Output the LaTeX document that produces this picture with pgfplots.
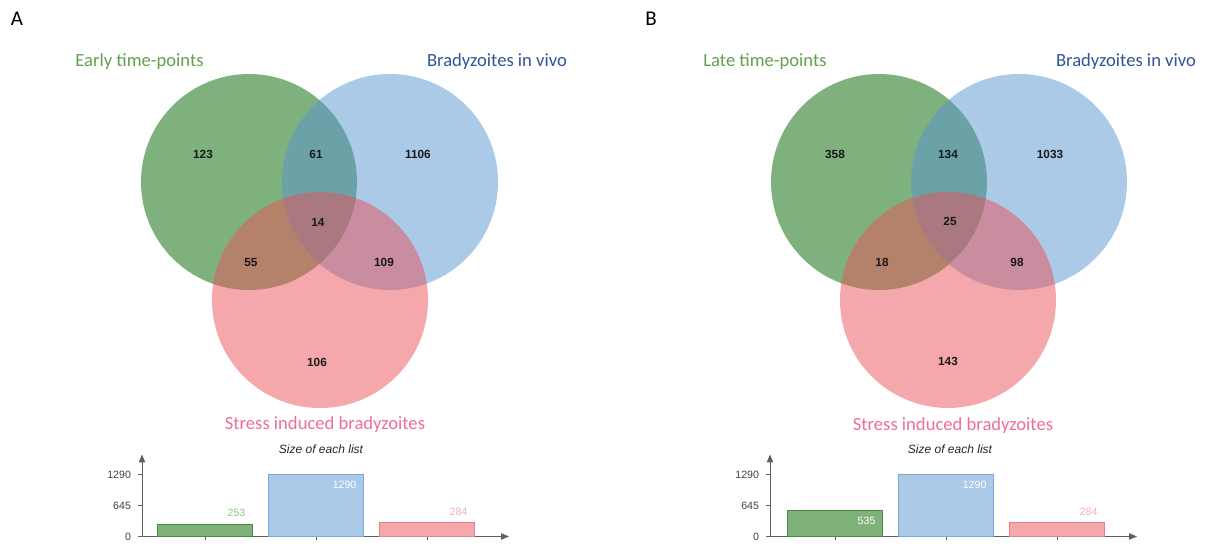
\documentclass[border=0pt]{standalone}
\usepackage{fontspec}
\setmainfont{Carlito}
\newfontfamily\arial{Liberation Sans}
\usepackage{pgfplots}
\pgfplotsset{compat=1.18}
\usepackage{pgfplotstable}
\usetikzlibrary{arrows.meta}

% venn fills (drawn at 50% over white)
\definecolor{vgreen}{RGB}{0,100,0}
\definecolor{vblue}{RGB}{87,149,209}
\definecolor{vpink}{RGB}{233,81,89}
% set titles
\definecolor{lgreen}{RGB}{98,160,78}
\definecolor{lblue}{RGB}{47,85,151}
\definecolor{lpink}{RGB}{238,110,150}
% bars
\definecolor{bgreen}{RGB}{127,178,121}
\definecolor{dgreen}{RGB}{72,140,68}
\definecolor{tgreen}{RGB}{140,198,128}
\definecolor{bblue}{RGB}{171,202,232}
\definecolor{dblue}{RGB}{128,168,214}
\definecolor{bpink}{RGB}{244,168,172}
\definecolor{dpink}{RGB}{232,128,136}
\definecolor{tpink}{RGB}{245,172,178}
\definecolor{axgray}{RGB}{95,95,95}

% region counts, positions in pixels of the reference
\pgfplotstableread{
x y lab
203 154 123
316 154 61
418 154 1106
318 222 14
251 262 55
384 262 109
317 362 106
}\vennA
\pgfplotstableread{
x y lab
835 154 358
948 154 134
1050 154 1033
950 221 25
882 262 18
1017 262 98
948 361 143
}\vennB

\newcommand{\vnum}{\arial\bfseries\fontsize{5.9}{7}\selectfont}
\newcommand{\vlab}{\fontsize{9.3}{11}\selectfont}

\pgfplotsset{
  vcirc/.style={only marks, mark=*, mark size=54pt,
    mark options={draw opacity=0, fill=#1, fill opacity=0.5}},
  barax/.style={
    scale only axis, anchor=south west,
    width=183.5pt, height=41pt,
    ymin=0, ymax=1706,
    axis lines=left,
    axis line style={draw=axgray, line width=0.5pt, -{Triangle[length=4pt,width=3.2pt]}},
    ybar,
    xtick={1,2,3}, xticklabels={},
    ytick={0,645,1290},
    tick align=outside, major tick length=2pt,
    tick style={axgray, line width=0.4pt},
    /pgf/number format/1000 sep={},
    /pgf/number format/assume math mode=true,
    tick label style={font=\arial\fontsize{5.3}{6}\selectfont, text=black!75},
    every axis plot/.append style={bar width=0.85, bar shift=0pt, line width=0.6pt},
  },
  inlab/.style={nodes near coords, every node near coord/.append style={
    font=\arial\fontsize{5.3}{6}\selectfont, inner sep=0pt, anchor=north east,
    xshift=20.5pt, yshift=-3pt, text=#1}},
  uplab/.style={nodes near coords, every node near coord/.append style={
    font=\arial\fontsize{5.3}{6}\selectfont, inner sep=0pt, anchor=south east,
    xshift=20.5pt, yshift=3.5pt, text=#1}},
}

\begin{document}
\begin{tikzpicture}
\begin{axis}[
  at={(0,0)}, anchor=south west,
  scale only axis, width=602.5pt, height=272.5pt,
  xmin=0, xmax=1205, ymin=0, ymax=545, y dir=reverse,
  hide axis, clip=false,
]
\path (rel axis cs:0,0) rectangle (rel axis cs:1,1);
% circles: green, blue, pink (A then B)
\addplot[vcirc=vgreen] coordinates {(249,182) (879,182)};
\addplot[vcirc=vblue] coordinates {(390,182) (1019,182)};
\addplot[vcirc=vpink] coordinates {(320,300) (948,300)};
% counts
\addplot[mark=none, draw=none, nodes near coords, point meta=explicit symbolic,
  every node near coord/.append style={font=\vnum, anchor=center, inner sep=0pt, text=black!90}]
  table[x=x, y=y, meta=lab] {\vennA};
\addplot[mark=none, draw=none, nodes near coords, point meta=explicit symbolic,
  every node near coord/.append style={font=\vnum, anchor=center, inner sep=0pt, text=black!90}]
  table[x=x, y=y, meta=lab] {\vennB};
% panel letters and set names
\node[font=\fontsize{10.5}{12}\selectfont] at (axis cs:17,19) {A};
\node[font=\fontsize{10.5}{12}\selectfont] at (axis cs:651,19) {B};
\node[font=\vlab, text=lgreen] at (axis cs:139.5,62) {Early time-points};
\node[font=\vlab, text=lblue] at (axis cs:497,62) {Bradyzoites in vivo};
\node[font=\vlab, text=lpink] at (axis cs:325,425) {Stress induced bradyzoites};
\node[font=\vlab, text=lgreen] at (axis cs:765,62) {Late time-points};
\node[font=\vlab, text=lblue] at (axis cs:1126,62) {Bradyzoites in vivo};
\node[font=\vlab, text=lpink] at (axis cs:953,426) {Stress induced bradyzoites};
\node[font=\arial\itshape\fontsize{6}{7}\selectfont, text=black!85] at (axis cs:321,449) {Size of each list};
\node[font=\arial\itshape\fontsize{6}{7}\selectfont, text=black!85] at (axis cs:950,449) {Size of each list};
\end{axis}

% list sizes, panel A
\begin{axis}[barax, at={(71pt,4.25pt)}, xmin=0.4324, xmax=3.739]
\addplot[fill=bgreen, draw=dgreen, uplab=tgreen] coordinates {(1,253)};
\addplot[fill=bblue, draw=dblue, inlab=white] coordinates {(2,1290)};
\addplot[fill=bpink, draw=dpink, uplab=tpink] coordinates {(3,284)};
\end{axis}

% list sizes, panel B
\begin{axis}[barax, at={(385pt,4.25pt)}, xmin=0.4144, xmax=3.7207]
\addplot[fill=bgreen, draw=dgreen, inlab=white] coordinates {(1,535)};
\addplot[fill=bblue, draw=dblue, inlab=white] coordinates {(2,1290)};
\addplot[fill=bpink, draw=dpink, uplab=tpink] coordinates {(3,284)};
\end{axis}
\end{tikzpicture}
\end{document}
